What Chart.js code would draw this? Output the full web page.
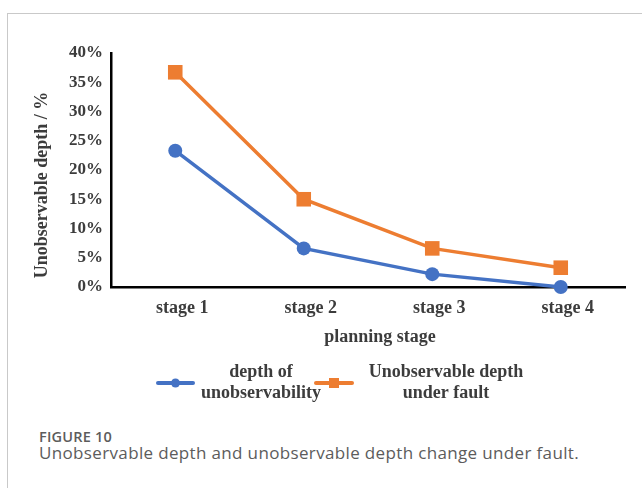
<!DOCTYPE html>
<html>
<head>
<meta charset="utf-8">
<script src="https://cdn.jsdelivr.net/npm/chart.js@4"></script>
<style>
  html, body { margin: 0; padding: 0; background: #fff; width: 642px; height: 488px; overflow: hidden; }
  #frame { position: absolute; left: 7px; top: 13px; width: 700px; height: 520px;
           border-left: 1px solid #c9c9c9; border-top: 1px solid #c9c9c9; }
  #wrap { position: absolute; left: 0; top: 0; width: 642px; height: 420px; }
  .cap { position: absolute; left: 39px; font-family: 'Open Sans', sans-serif; color: #5c5c5c; white-space: nowrap; line-height: 1; }
  #capNum { top: 430px; font-size: 14.5px; font-weight: 600; letter-spacing: 0.2px; }
  #capTxt { top: 444px; font-size: 17px; letter-spacing: 0.35px; }
</style>
</head>
<body>
<div id="frame"></div>
<div id="wrap"><canvas id="chart"></canvas></div>
<div class="cap" id="capNum">FIGURE 10</div>
<div class="cap" id="capTxt">Unobservable depth and unobservable depth change under fault.</div>
<script>
// Planning stages along the x axis
const categories = ['stage 1', 'stage 2', 'stage 3', 'stage 4'];
// Unobservable depth (%) at each stage
const depthOfUnobservability = [23.3, 6.6, 2.2, 0];
// Unobservable depth (%) at each stage when a fault occurs
const depthUnderFault = [36.7, 15.0, 6.6, 3.3];
// Percent ticks on the y axis
const yTickValues = [0, 5, 10, 15, 20, 25, 30, 35, 40];
// Legend entries (two lines each)
const seriesLabels = ['depth of\nunobservability', 'Unobservable depth\nunder fault'];
const yTitle = 'Unobservable depth / %';
const xTitle = 'planning stage';

const BLUE = '#4472C4';
const ORANGE = '#ED7D31';
const TEXT = '#3c3c3c';
const SERIF = "'Liberation Serif', 'Times New Roman', serif";

// Axis titles and the two-line legend under the plot
const figureText = {
  id: 'figureText',
  afterDraw(chart) {
    const ctx = chart.ctx;
    ctx.save();
    ctx.fillStyle = TEXT;
    ctx.font = 'bold 18px ' + SERIF;
    ctx.textAlign = 'center';
    ctx.textBaseline = 'middle';

    // y title, rotated
    ctx.save();
    ctx.translate(42, 185);
    ctx.rotate(-Math.PI / 2);
    ctx.fillText(yTitle, 0, 0);
    ctx.restore();

    // x title
    ctx.fillText(xTitle, 380, 337);

    // legend
    const items = [
      { x0: 158, x1: 193, tx: 261, style: 'circle' },
      { x0: 316, x1: 352, tx: 446, style: 'rect' }
    ];
    chart.data.datasets.forEach((ds, i) => {
      const it = items[i];
      const y = 383;
      ctx.strokeStyle = ds.borderColor;
      ctx.lineWidth = 4;
      ctx.lineCap = 'round';
      ctx.beginPath();
      ctx.moveTo(it.x0, y);
      ctx.lineTo(it.x1, y);
      ctx.stroke();
      ctx.fillStyle = ds.borderColor;
      const cx = (it.x0 + it.x1) / 2;
      if (it.style === 'circle') {
        ctx.beginPath();
        ctx.arc(cx, y, 4.5, 0, Math.PI * 2);
        ctx.fill();
      } else {
        ctx.fillRect(cx - 5, y - 5, 10, 10);
      }
      ctx.fillStyle = TEXT;
      seriesLabels[i].split('\n').forEach((line, k) => {
        ctx.fillText(line, it.tx, 372 + k * 21);
      });
    });
    ctx.restore();
  }
};

new Chart(document.getElementById('chart'), {
  type: 'line',
  data: {
    labels: categories,
    datasets: [
      {
        label: seriesLabels[0],
        data: depthOfUnobservability,
        borderColor: BLUE,
        backgroundColor: BLUE,
        borderWidth: 3.5,
        pointStyle: 'circle',
        pointRadius: 7,
        pointHoverRadius: 7,
        pointBorderWidth: 0,
        tension: 0,
        clip: false
      },
      {
        label: seriesLabels[1],
        data: depthUnderFault,
        borderColor: ORANGE,
        backgroundColor: ORANGE,
        borderWidth: 3.5,
        pointStyle: 'rect',
        pointRadius: 10.3,
        pointHoverRadius: 10.3,
        pointBorderWidth: 0,
        tension: 0,
        clip: false
      }
    ]
  },
  options: {
    responsive: true,
    maintainAspectRatio: false,
    animation: false,
    events: [],
    layout: { padding: { left: 0, right: 17, top: 53, bottom: 0 } },
    plugins: {
      legend: { display: false },
      tooltip: { enabled: false },
      title: { display: false }
    },
    scales: {
      x: {
        type: 'category',
        offset: true,
        grid: { display: false, drawTicks: false },
        border: { display: true, color: '#000', width: 2.5 },
        ticks: {
          color: TEXT,
          font: { family: SERIF, size: 18, weight: 'bold' },
          padding: 11,
          labelOffset: 7,
          maxRotation: 0,
          autoSkip: false
        },
        afterFit(s) { s.height = 133; }
      },
      y: {
        min: 0,
        max: 40,
        grid: { display: false, drawTicks: false },
        border: { display: true, color: '#000', width: 2.5 },
        afterBuildTicks(s) { s.ticks = yTickValues.map(v => ({ value: v })); },
        ticks: {
          color: TEXT,
          font: { family: SERIF, size: 17, weight: 'bold' },
          padding: 8,
          callback: v => v + '%'
        },
        afterFit(s) { s.width = 111; }
      }
    }
  },
  plugins: [figureText]
});
</script>
</body>
</html>
